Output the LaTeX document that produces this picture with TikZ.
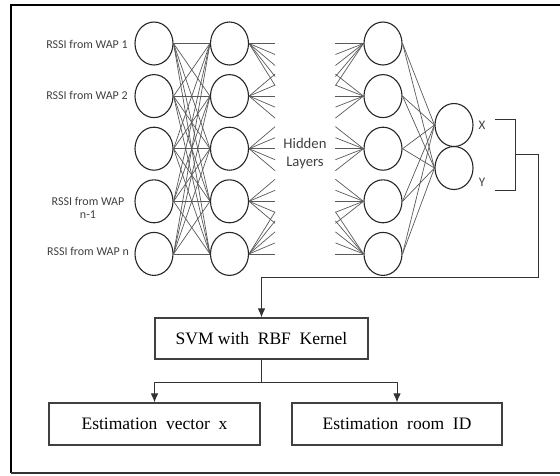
\documentclass[tikz,border=0pt]{standalone}
\usepackage{fontspec}
\setmainfont{Liberation Serif}
\newfontfamily\labelfont{Carlito}
\usetikzlibrary{shapes.geometric,arrows.meta,calc}

\begin{document}
\begin{tikzpicture}[
        x=1pt, y=-1pt,
        neuron/.style={ellipse, draw=black!85, line width=1.1pt, minimum width=38pt, minimum height=43pt, inner sep=0pt},
        link/.style={draw=black!65, line width=0.7pt},
        wire/.style={draw=black!80, line width=1pt},
        block/.style={rectangle, draw=black!75, line width=1.1pt, font=\fontsize{17.5}{20}\selectfont},
        inlabel/.style={font=\labelfont\fontsize{12}{13}\selectfont, text=black!75, align=center},
        >={Latex[length=9pt,width=7.5pt]}
        ]
      \useasboundingbox (0,0) rectangle (560,475);
      \draw[line width=1.8pt] (560,5) -- (11,5) -- (11,473);
      \draw[line width=1.4pt, black!80] (11,473) -- (560,473);

      % layers
      \foreach \i in {1,...,5} {
        \node[neuron] (in\i) at (154, {43.5+52.6*(\i-1)}) {};
        \node[neuron] (ha\i) at (229.5, {43.5+52.6*(\i-1)}) {};
        \node[neuron] (hb\i) at (383, {43.5+52.6*(\i-1)}) {};
      }
      \node[neuron] (ox) at (454,125) {};
      \node[neuron] (oy) at (454,168) {};

      \node[inlabel] (lab1) at (87,44) {RSSI from WAP 1};
      \node[inlabel] (lab2) at (87,95) {RSSI from WAP 2};
      \node[inlabel] (lab4) at (88,208) {RSSI from WAP\\n-1};
      \node[inlabel] (lab5) at (88,251) {RSSI from WAP n};
      \node[inlabel, font=\labelfont\fontsize{14.7}{18}\selectfont] (hid) at (305,154) {Hidden\\Layers};
      \node[inlabel, font=\labelfont\fontsize{13}{15}\selectfont] (lx) at (482,125) {X};
      \node[inlabel, font=\labelfont\fontsize{13}{15}\selectfont] (ly) at (482,182) {Y};

      \foreach \i in {1,...,5}
        \foreach \j in {1,...,5}
          \draw[link] (in\i.east) -- (ha\j.west);

      % fans into the hidden layers
      \foreach \i/\offs in {1/{0,11,22,33,42}, 2/{-22,-11,0,11,22}, 3/{-22,-11,0,11,22}, 4/{-22,-11,0,11,22}, 5/{0,-11,-22,-33,-42}}
        \foreach \d in \offs {
          \coordinate (fa\i\d) at ($(ha\i.east)+(26,\d)$);
          \coordinate (fb\i\d) at ($(hb\i.west)+(-28,\d)$);
          \draw[link] (ha\i.east) -- (fa\i\d);
          \draw[link] (fb\i\d) -- (hb\i.west);
        }

      \foreach \i in {1,...,5} {
        \draw[link] (hb\i.east) -- (ox.west);
        \draw[link] (hb\i.east) -- (oy.west);
      }

      % bracket and classifier
      \coordinate (brt) at (495,119);
      \coordinate (brb) at (495,190);
      \coordinate (brm) at (515,154.5);
      \coordinate (bend) at (538,277);
      \draw[wire] (brt) -- ++(20,0) |- (brb);

      \node[block, minimum width=213pt, minimum height=41pt] (svm) at (261.5,338.5) {SVM with\ \ RBF\ \ Kernel};
      \node[block, minimum width=211pt, minimum height=42pt] (estx) at (154.5,424) {Estimation\ \ vector\ \ x};
      \node[block, minimum width=210pt, minimum height=42pt] (estid) at (397,424) {Estimation\ \ room\ \ ID};

      \draw[wire, ->] (brm) -| (bend) -| (svm.north);
      \draw[wire] (svm.south) -- ++(0,23) coordinate (split);
      \draw[wire, ->] (split) -| (estx.north);
      \draw[wire, ->] (split) -| (estid.north);

    \end{tikzpicture}
\end{document}
